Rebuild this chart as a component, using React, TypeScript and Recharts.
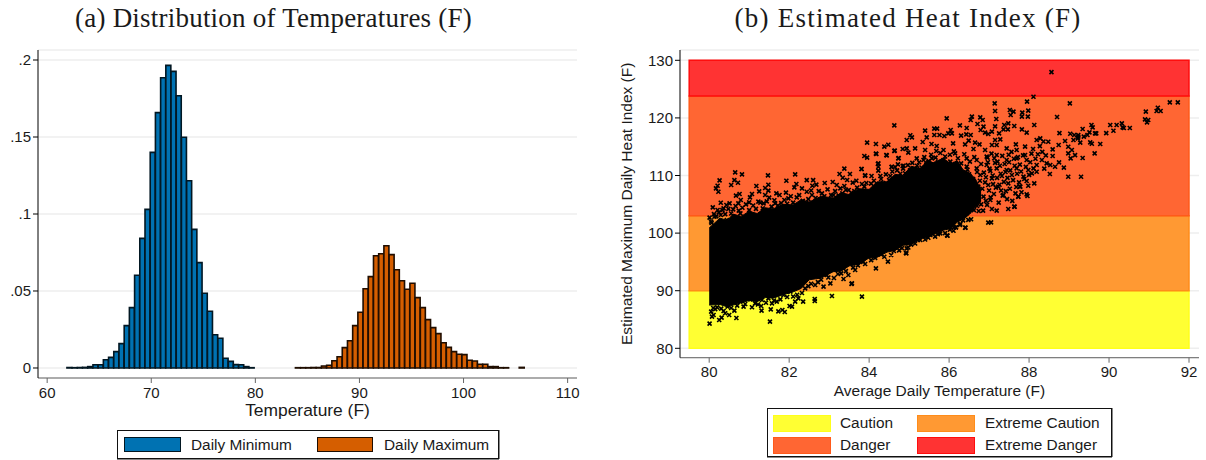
import {
  Area,
  Bar,
  BarChart,
  CartesianGrid,
  Cell,
  ComposedChart,
  ReferenceArea,
  Scatter,
  XAxis,
  YAxis,
} from "recharts";

const SANS = '"Liberation Sans", Arial, sans-serif';
const SERIF = '"Liberation Serif", serif';

// panel (a): histogram bins, bin centre and density
const minBins = [
  62.15, 62.65, 63.15, 63.65, 64.15, 64.65, 65.15, 65.65, 66.15, 66.65, 67.15, 67.65,
  68.15, 68.65, 69.15, 69.65, 70.15, 70.65, 71.15, 71.65, 72.15, 72.65, 73.15, 73.65,
  74.15, 74.65, 75.15, 75.65, 76.15, 76.65, 77.15, 77.65, 78.15, 78.65, 79.15, 79.65,
];
const minDensity = [
  0.0003, 0.0002, 0.0003, 0.0004, 0.0009, 0.0021, 0.0021, 0.0054, 0.0069, 0.0106, 0.0158, 0.0275,
  0.0392, 0.0602, 0.0842, 0.103, 0.14, 0.1658, 0.1885, 0.1965, 0.1926, 0.1768, 0.1498, 0.1216,
  0.09, 0.0684, 0.0485, 0.0368, 0.0216, 0.0193, 0.0063, 0.0043, 0.0022, 0.0021, 0.0009, 0.0002,
];
const maxBins = [
  84.1, 84.6, 85.1, 85.6, 86.1, 86.6, 87.1, 87.6, 88.1, 88.6, 89.1, 89.6, 90.1, 90.6, 91.1, 91.6,
  92.1, 92.6, 93.1, 93.6, 94.1, 94.6, 95.1, 95.6, 96.1, 96.6, 97.1, 97.6, 98.1, 98.6, 99.1, 99.6,
  100.1, 100.6, 101.1, 101.6, 102.1, 102.6, 103.1, 103.6, 104.1, 105.6,
];
const maxDensity = [
  0.0002, 0.0002, 0.0002, 0.0003, 0.0003, 0.0013, 0.0018, 0.0047, 0.0073, 0.0132, 0.0177, 0.0275,
  0.0362, 0.0515, 0.0593, 0.0729, 0.0742, 0.0794, 0.0736, 0.0638, 0.0567, 0.0511, 0.055, 0.0457,
  0.0392, 0.0314, 0.0262, 0.0223, 0.0164, 0.0134, 0.0106, 0.0089, 0.0087, 0.005, 0.0045, 0.0024,
  0.0024, 0.0009, 0.0009, 0.0002, 0.0002, 0.0004,
];
const densityTicks = [0, 0.05, 0.1, 0.15, 0.2];
const tempTicks = [60, 70, 80, 90, 100, 110];

// panel (b): heat index bands
const bandNames = ["Caution", "Extreme Caution", "Danger", "Extreme Danger"];
const bandLow = [80, 90, 103, 123.8];
const bandHigh = [90, 103, 123.8, 130];
const bandFill = ["#ffff33", "#ff9933", "#ff6633", "#ff3333"];
const bandEdge = ["#ffff1a", "#ff8c1a", "#ff5a1a", "#ff0d0d"];
const avgTicks = [80, 82, 84, 86, 88, 90, 92];
const heatTicks = [80, 90, 100, 110, 120, 130];

// the solid black core of the scatter, read as a lower and upper edge
const coreTemp = [
  80, 80.27, 80.45, 80.6, 80.8, 81, 81.2, 81.4, 81.6, 81.85, 82.1, 82.3, 82.5, 82.8, 83.1, 83.3, 83.5,
  83.75, 84, 84.2, 84.45, 84.65, 84.85, 85.05, 85.3, 85.45, 85.6, 85.85, 86.05, 86.2, 86.35, 86.5, 86.65, 86.8,
];
const coreLow = [
  87.5, 87.6, 87.2, 87.5, 87.9, 88.3, 88.1, 88.8, 88.7, 89.3, 89.8, 90.4, 91.9, 92.2, 93.3, 93.4, 94.3,
  94.6, 95.7, 95.8, 96.7, 97, 97.9, 98, 99.1, 99.2, 99.7, 100.5, 100.8, 101.9, 102.4, 103.2, 104.5, 105.5,
];
const coreHigh = [
  100.9, 102.6, 102.2, 103.3, 102.9, 103.8, 103.4, 104.4, 104.2, 105, 104.9, 105.8, 105.4, 106.4, 106.1, 107, 106.7,
  107.7, 107.6, 108.9, 108.9, 110.2, 110, 111.6, 111.2, 112.7, 112.2, 113, 112, 112.6, 111, 110.5, 109.5, 107.5,
];

// single markers around the core
const looseTemp = [
  80.65, 80.82, 81.47, 82.15, 83.38, 83.81, 80.26, 80.21, 80.17, 80.23, 80.55, 80.63, 80.72, 81.18, 81.48, 81.4,
  81.48, 81.25, 81.93, 82.18, 82.13, 82.44, 82.6, 82.58, 82.68, 82.89, 83.09, 83.26, 83.34, 83.52, 83.45, 83.59,
  83.68, 83.9, 83.19, 83.28, 83.38, 83.49, 83.63, 83.82, 83.88, 80.76, 80.67, 81.07, 81.02, 81.68, 81.76, 81.92,
  81.4, 81.5, 82.32, 82.44, 82.57, 82.82, 83.11, 81.88, 81.98, 82.19, 80.79, 80.29, 80.09, 80.51, 80.43, 80.21,
  80.36, 80.6, 81.0, 80.73, 80.78, 81.23, 81.36, 81.65, 80.01, 80.06, 80.13, 80.29, 80.44, 81.03, 81.48,
  80.01, 81.52, 80.68, 80.25, 80.31, 80.07, 80.05, 80.11, 80.36, 80.4, 80.5, 80.46, 80.63, 81.31, 81.54, 81.73,
  81.83, 81.89, 82.01, 82.07, 82.35, 82.64, 82.64, 83.07, 83.82, 81.3, 81.57, 81.69, 80.86, 81.07, 80.78, 81.03,
  81.32, 81.48, 82.15, 82.23, 81.86, 82.03, 82.65, 82.86, 83.03, 83.36, 83.57, 83.48, 83.65, 83.9, 82.94,
  87.14, 87.95, 87.15, 87.52, 87.61, 87.54, 87.83, 87.98, 87.82, 87.97, 86.57, 86.54, 86.78, 86.84, 87.18, 85.94,
  84.63, 86.27, 86.44, 86.71, 86.86, 87.15, 87.38, 87.48, 87.63, 87.36, 87.47, 87.82, 87.94, 85.4, 85.63, 85.7,
  86.79, 86.9, 86.98, 87.07, 87.25, 86.04, 85.98, 85.88, 86.07, 85.63, 85.76, 85.44, 86.3, 86.43, 86.54, 85.03,
  85.07, 84.94, 83.95, 84.17, 84.38, 84.48, 85.34, 85.56, 85.69, 86.49, 86.4, 86.65, 86.76, 87.15, 87.28, 87.07,
  87.67, 87.9, 84.64, 84.84, 84.94, 84.17, 84.43, 83.88, 83.95, 84.74, 84.98, 85.15, 85.4, 85.68, 86.1, 85.86,
  86.15, 86.61, 86.9, 87.19, 87.44, 87.69, 87.9, 84.23, 84.23, 83.81, 84.56, 84.72, 84.84, 83.9, 84.06, 84.28,
  84.53, 85.19, 85.36, 85.57, 85.86, 86.03, 86.44, 86.69, 86.94, 87.19, 87.44, 87.69, 87.94, 86.44, 86.69, 86.94,
  87.19, 87.44, 87.69, 87.98, 86.52, 86.78, 87.07, 87.32, 87.57, 87.86, 86.73, 86.98, 87.23, 87.48, 87.78, 87.94,
  86.61, 86.74, 87.07, 87.19, 87.48, 87.63, 87.36, 87.73, 87.94, 86.61, 86.27, 86.98, 87.05, 86.41, 86.17, 86.86,
  87.03, 88.56, 88.11, 89.02, 88.7, 88.13, 88.76, 89.03, 89.13, 89.23, 89.34, 89.22, 89.37, 89.46, 89.56, 89.59,
  89.51, 89.65, 89.68, 89.93, 90.11, 90.03, 90.19, 90.32, 90.34, 90.37, 90.52, 90.92, 91.22, 91.19, 91.29, 90.9,
  90.98, 90.95, 91.52, 91.72, 89.53, 89.57, 89.78, 89.64, 89.34, 89.3, 88.98, 88.52, 88.87, 88.75, 88.65, 88.53,
  88.98, 89.07, 88.98, 89.04, 89.15, 88.9, 89.11, 89.28, 89.23, 88.74, 88.59, 88.59, 88.48, 88.28, 88.19, 88.44,
  88.32, 88.19, 88.11, 88.19, 88.07, 88.13, 87.98, 87.77, 87.96, 87.73, 87.64, 86.27, 85.96, 84.93, 84.94, 85.28,
  85.53, 85.78, 83.56, 84.17, 84.47, 84.92, 85.95, 86.4, 86.11, 86.17, 84.18, 84.44, 84.63, 84.22, 84.23, 84.57,
  84.73, 84.86, 84.65,
];
const looseHeat = [
  110.55, 110.2, 110.03, 110.2, 111.2, 111.13, 109.16, 108.23, 107.77, 107.19, 108.35, 109.2, 108.75, 108.18, 108.4, 107.83,
  107.37, 107.25, 109.1, 108.52, 107.95, 109.2, 109.2, 108.23, 108.41, 108.7, 108.87, 110.26, 109.62, 110.26, 109.22, 108.76,
  109.1, 110.03, 108.35, 107.77, 108.18, 107.48, 107.31, 108.52, 108.06, 106.79, 106.5, 106.79, 106.21, 106.9, 106.61, 107.02,
  106.61, 106.15, 107.77, 107.19, 106.61, 106.9, 106.61, 105.75, 106.03, 106.21, 105.75, 105.28, 104.47, 105.17, 104.88, 104.01,
  104.3, 104.13, 105.34, 105.17, 103.43, 105.46, 105.17, 105.17, 102.68, 101.75, 102.85, 103.14, 102.27, 103.14, 103.43,
  84.28, 84.63, 85.26, 84.92, 85.32, 85.5, 86.36, 85.78, 86.48, 86.08, 85.78, 87.23, 86.54, 86.54, 86.77, 86.42,
  86.65, 86.31, 87.35, 87.23, 88.1, 88.56, 88.22, 89.08, 88.97, 87.35, 87.81, 88.1, 87.23, 87.12, 88.1, 88.5,
  88.39, 88.68, 88.1, 88.68, 89.26, 89.84, 91.0, 90.7, 91.28, 92.03, 91.28, 92.73, 93.6, 94.64, 92.73,
  122.53, 122.82, 121.2, 121.37, 121.08, 120.5, 120.91, 121.26, 120.22, 120.22, 120.22, 119.64, 120.1, 119.64, 119.81, 119.93,
  118.71, 118.71, 118.25, 118.94, 118.48, 118.54, 118.77, 119.06, 118.6, 118.02, 118.02, 118.02, 117.44, 117.79, 118.13, 118.13,
  117.9, 117.44, 117.21, 117.61, 117.32, 117.9, 117.32, 116.86, 117.32, 117.03, 117.03, 116.63, 116.92, 117.15, 117.03, 116.98,
  116.63, 116.17, 115.7, 115.47, 115.01, 115.35, 115.82, 115.47, 115.12, 116.05, 115.41, 115.7, 115.41, 116.17, 116.28, 115.3,
  115.41, 115.01, 114.31, 114.6, 114.72, 113.79, 113.56, 113.39, 113.1, 113.04, 113.97, 114.72, 114.43, 114.26, 115.59, 114.43,
  113.85, 114.6, 114.43, 115.3, 114.72, 114.43, 113.56, 112.1, 110.84, 111.13, 111.48, 111.94, 111.65, 109.97, 109.92, 109.92,
  109.92, 112.98, 112.69, 112.98, 112.69, 112.4, 112.98, 112.69, 113.27, 113.56, 112.69, 112.98, 112.69, 111.54, 111.25, 111.83,
  111.25, 110.96, 111.25, 110.96, 109.8, 110.09, 109.51, 109.92, 110.09, 109.8, 108.06, 108.35, 108.06, 108.64, 108.06, 109.05,
  105.17, 103.84, 104.19, 103.9, 104.19, 104.59, 106.62, 106.33, 106.73, 106.91, 107.49, 101.81, 101.87, 100.95, 101.0, 106.33,
  105.75, 127.96, 123.68, 122.52, 120.15, 118.76, 117.37, 117.26, 117.03, 117.03, 118.07, 116.45, 116.74, 117.03, 118.76, 118.36,
  117.49, 117.32, 117.32, 117.37, 117.78, 118.76, 118.76, 119.05, 118.36, 118.24, 118.24, 121.08, 121.77, 121.19, 121.19, 119.75,
  119.63, 119.23, 122.7, 122.7, 115.75, 115.52, 115.47, 113.84, 113.03, 109.79, 109.79, 110.26, 111.36, 112.28, 111.53, 111.82,
  115.0, 114.42, 113.84, 112.98, 113.55, 115.99, 116.16, 115.7, 116.74, 115.29, 113.38, 114.54, 115.87, 116.45, 116.16, 112.11,
  112.69, 111.82, 111.24, 110.66, 110.37, 108.64, 108.23, 108.06, 106.44, 106.32, 104.58, 101.4, 99.55, 96.48, 97.35, 98.8,
  99.67, 99.96, 91.16, 93.88, 95.04, 96.6, 99.61, 100.94, 100.42, 101.0, 113.73, 113.5, 114.25, 111.99, 111.53, 111.53,
  112.98, 111.7, 111.47,
];

// tightly packed markers hugging the core, estimated by eye
const fringeTemp = [
  84.05, 84.12, 84.2, 84.3, 84.35, 84.42, 84.5, 84.58, 84.66, 84.7, 84.78, 84.85, 84.9, 84.97, 85.02, 85.08,
  85.12, 85.2, 85.25, 85.31, 85.38, 85.43, 85.49, 85.55, 85.6, 85.66, 85.72, 85.78, 85.82, 85.9, 85.96, 86.02,
  86.08, 86.12, 86.18, 86.22, 86.26, 86.3, 86.35, 86.38, 86.42, 86.46, 86.5, 86.52, 86.56, 86.6, 86.63, 86.66,
  86.7, 86.74, 86.77, 86.8, 86.83, 86.87, 86.9, 86.92, 86.97, 87.0, 87.03, 87.06, 87.1, 87.12, 87.15, 87.2,
  87.24, 87.27, 87.3, 87.33, 87.37, 87.41, 87.45, 87.5, 87.52, 87.56, 87.6, 87.64, 87.66, 87.72, 87.75, 87.8,
  80.05, 80.12, 80.18, 80.24, 80.33, 80.4, 80.48, 80.55, 80.66, 80.74, 80.83, 80.92, 81, 81.1, 81.17, 81.28,
  81.34, 81.44, 81.56, 81.63, 81.72, 81.8, 81.95, 82.04, 82.1, 82.25, 82.34, 82.48, 82.55, 82.66, 82.74, 82.88,
  82.96, 83.05, 83.15, 83.24, 83.33, 83.42, 83.55, 83.7, 83.78, 83.93,
  80.1, 80.15, 80.2, 80.3, 80.55, 80.7, 80.9, 81.15, 81.22, 81.42, 81.62, 81.78, 81.95, 82.1, 82.2, 82.32,
  82.4, 82.48, 82.55, 82.72, 82.8, 82.98, 83.12, 83.22, 83.3, 83.42, 83.6, 83.72, 83.85, 84.05, 84.15, 84.3,
  84.38, 84.55, 84.62, 84.75, 84.82, 84.98, 85.05, 85.15, 85.22, 85.4, 85.48, 85.65, 85.72, 85.9, 86.02, 86.12,
  86.28, 86.35, 86.48, 86.55, 86.38, 86.44, 86.5, 86.55, 86.62, 86.66, 86.7, 86.8, 86.85, 86.95,
  86.92, 86.96, 87.01, 87.04, 87.09, 87.13, 87.17, 87.21, 87.26, 87.29, 87.34, 87.39, 87.42, 87.46, 87.49, 87.53,
  87.58, 87.62, 87.68, 87.7, 87.77, 87.81, 87.85, 87.88, 87.92, 88, 88.03, 88.06, 88.1, 88.16, 88.22, 88.27,
  88.33, 88.38, 88.42, 88.36,
];
const fringeHeat = [
  108.6, 109.1, 108.3, 109.4, 108.7, 110.2, 109.2, 110.7, 109.6, 110.9, 110.3, 111.2, 110.4, 111.8, 110.9, 112.2,
  111.2, 111.7, 112.3, 111.4, 113.2, 111.9, 112.5, 113.6, 112, 113.1, 112.3, 113.9, 112.2, 113.3, 111.9, 113.6,
  112, 114.2, 111.6, 113, 110.6, 112.1, 109.9, 113.7, 108.7, 111, 110.2, 112.4, 107.6, 109.4, 113.2, 108.3,
  110.6, 106.7, 109.1, 112, 107.7, 110.5, 108.8, 105.6, 112.3, 107.4, 110.8, 113.8, 108.5, 106.8, 112.2, 109.6,
  105.3, 111.7, 107.4, 113.4, 108.9, 110.6, 105.9, 112.3, 107.7, 114.1, 109.2, 111.7, 106.9, 113.2, 108.8, 110.7,
  102, 103.3, 102.9, 103.6, 104, 103.3, 104.2, 103.4, 104.7, 103.9, 104.4, 105, 104, 104.8, 104.2, 105.3,
  104.3, 105.5, 104.6, 105.7, 104.8, 105.2, 105.1, 106.4, 105.3, 106.6, 105.6, 105.9, 107.4, 106.1, 107.3, 106.4,
  107.6, 106.6, 107.3, 106.5, 106.9, 107.5, 107, 107.9, 107.2, 108.7,
  87, 86.8, 87.1, 86.9, 87, 87.4, 87.7, 87.8, 87.6, 87.9, 88.3, 88.5, 88.9, 89, 89.3, 89.6,
  90.4, 90.8, 91.2, 91.5, 91.9, 92.3, 92.2, 92.9, 93, 93.4, 94, 94.4, 95, 95.3, 95.7, 96.3,
  95.9, 96.2, 96.9, 97, 97.4, 97.5, 98, 98.2, 98.8, 98.9, 99.2, 99.4, 99.8, 100, 100.6, 101,
  101.6, 102.2, 102.3, 102.4, 104, 105, 103.8, 105.6, 104, 105.9, 104.7, 105, 103.9, 104.9,
  109.7, 113.1, 111.2, 106.2, 110, 113, 107.9, 112.4, 108.4, 110.3, 106.5, 112, 107.3, 109.6, 113.6, 110.9,
  105.6, 112.9, 108, 110.3, 111.9, 107.1, 113.5, 109.4, 111.5, 110.1, 112.3, 113.8, 114.6, 112.9, 113.7, 115.1,
  114.1, 111.2, 113.5, 115.9,
];

const histRows = [
  ...minBins.map((bin, i) => ({ bin, density: minDensity[i], fill: "#0072b2", edge: "#021722" })),
  ...maxBins.map((bin, i) => ({ bin, density: maxDensity[i], fill: "#d55e00", edge: "#1f0d00" })),
];
const coreRows = coreTemp.map((temp, i) => ({ temp, band: [coreLow[i], coreHigh[i]] }));
const looseRows = [
  ...looseTemp.map((temp, i) => ({ temp, heat: looseHeat[i] })),
  ...fringeTemp.map((temp, i) => ({ temp, heat: fringeHeat[i] })),
];

const tickStyle = { fontSize: 15, fontFamily: SANS, fill: "#1a1a1a" };
const labelStyle = { fontSize: 15.5, fontFamily: SANS, fill: "#1a1a1a" };

const XMark = (props: any) => {
  const { cx, cy } = props;
  const r = 2;
  return (
    <path
      d={`M${cx - r},${cy - r}L${cx + r},${cy + r}M${cx - r},${cy + r}L${cx + r},${cy - r}`}
      stroke="#000"
      strokeWidth={1.6}
      fill="none"
    />
  );
};

function Swatch({ left, top, width, height, fill, edge, border }: any) {
  return (
    <div
      style={{
        position: "absolute",
        left,
        top,
        width,
        height,
        background: fill,
        border: `${border}px solid ${edge}`,
        boxSizing: "border-box",
      }}
    />
  );
}

function LegendText({ left, top, children }: any) {
  return (
    <div
      style={{
        position: "absolute",
        left,
        top,
        fontFamily: SANS,
        fontSize: 15.4,
        lineHeight: "18px",
        color: "#1a1a1a",
        whiteSpace: "nowrap",
      }}
    >
      {children}
    </div>
  );
}

function LegendBox({ left, top, width, height }: any) {
  return (
    <div
      style={{
        position: "absolute",
        left,
        top,
        width,
        height,
        border: "1px solid #111",
        boxShadow: "0 1px 0 #888, 1px 0 0 #888",
        boxSizing: "border-box",
      }}
    />
  );
}

function Title({ center, spacing, children }: any) {
  return (
    <div
      style={{
        position: "absolute",
        left: center - 290,
        width: 580,
        top: 1,
        textAlign: "center",
        fontFamily: SERIF,
        fontSize: 27,
        lineHeight: "34px",
        letterSpacing: spacing,
        color: "#1a1a1a",
      }}
    >
      {children}
    </div>
  );
}

export default function App() {
  return (
    <div style={{ position: "absolute", left: 0, top: 0, width: 1206, height: 460, background: "#fff", overflow: "hidden" }}>
      <Title center={273.5} spacing={0.22}>(a) Distribution of Temperatures (F)</Title>
      <Title center={908} spacing={1.25}>(b) Estimated Heat Index (F)</Title>

      <div style={{ position: "absolute", left: 0, top: 0 }}>
        <BarChart
          width={590}
          height={425}
          data={histRows}
          margin={{ top: 50, right: 13, bottom: 0, left: 0 }}
          barSize={5}
        >
          <CartesianGrid horizontal vertical={false} stroke="#eeeeee" strokeWidth={1.5} />
          <XAxis
            dataKey="bin"
            type="number"
            domain={[59.12, 110.9]}
            ticks={tempTicks}
            height={47}
            tick={tickStyle}
            tickSize={5}
            tickMargin={4}
            stroke="#666"
            interval={0}
            label={{ value: "Temperature (F)", position: "insideBottom", offset: 9, style: { ...labelStyle, fontSize: 17.4 } }}
          />
          <YAxis
            type="number"
            domain={[-0.0065, 0.2065]}
            ticks={densityTicks}
            width={38}
            tick={tickStyle}
            tickSize={5}
            tickMargin={2}
            stroke="#000"
            interval={0}
            tickFormatter={(v: number) => (v === 0 ? "0" : String(v).replace("0.", "."))}
          />
          <Bar dataKey="density" isAnimationActive={false} strokeWidth={1.6}>
            {histRows.map((r) => (
              <Cell key={r.bin} fill={r.fill} stroke={r.edge} />
            ))}
          </Bar>
        </BarChart>
      </div>

      <div style={{ position: "absolute", left: 600, top: 0 }}>
        <ComposedChart
          width={606}
          height={420}
          data={coreRows}
          margin={{ top: 50, right: 7, bottom: 0, left: 0 }}
        >
          <CartesianGrid horizontal vertical={false} stroke="#eeeeee" strokeWidth={1.5} />
          <XAxis
            dataKey="temp"
            type="number"
            domain={[79.27, 92.25]}
            ticks={avgTicks}
            height={62.3}
            tick={tickStyle}
            tickSize={5}
            tickMargin={4}
            stroke="#666"
            interval={0}
            label={{ value: "Average Daily Temperature (F)", position: "insideBottom", offset: 24, style: labelStyle }}
          />
          <YAxis
            type="number"
            domain={[78.37, 131.79]}
            ticks={heatTicks}
            width={80}
            tick={tickStyle}
            tickSize={5}
            tickMargin={2}
            stroke="#000"
            interval={0}
            label={{
              value: "Estimated Maximum Daily Heat Index (F)",
              angle: -90,
              position: "insideLeft",
              offset: 27,
              style: { ...labelStyle, textAnchor: "middle" },
            }}
          />
          {bandNames.map((name, i) => (
            <ReferenceArea
              key={name}
              x1={79.5}
              x2={92}
              y1={bandLow[i]}
              y2={bandHigh[i]}
              fill={bandFill[i]}
              fillOpacity={1}
              stroke={bandEdge[i]}
              strokeWidth={1.5}
            />
          ))}
          <Area
            dataKey="band"
            type="linear"
            stroke="#000"
            strokeWidth={1}
            fill="#000"
            fillOpacity={1}
            dot={false}
            activeDot={false}
            isAnimationActive={false}
          />
          <Scatter data={looseRows} dataKey="heat" shape={XMark} isAnimationActive={false} />
        </ComposedChart>
      </div>

      <LegendBox left={117} top={430} width={382} height={29} />
      <Swatch left={124} top={437} width={57} height={15} fill="#0072b2" edge="#021722" border={1.5} />
      <LegendText left={191} top={436}>Daily Minimum</LegendText>
      <Swatch left={317} top={437} width={56} height={15} fill="#d55e00" edge="#1f0d00" border={1.5} />
      <LegendText left={384} top={436}>Daily Maximum</LegendText>

      <LegendBox left={767} top={408} width={345} height={49} />
      <Swatch left={773} top={415} width={58} height={17} fill={bandFill[0]} edge={bandEdge[0]} border={1} />
      <LegendText left={840} top={414}>{bandNames[0]}</LegendText>
      <Swatch left={917} top={415} width={58} height={17} fill={bandFill[1]} edge={bandEdge[1]} border={1} />
      <LegendText left={985} top={414}>{bandNames[1]}</LegendText>
      <Swatch left={773} top={437} width={58} height={17} fill={bandFill[2]} edge={bandEdge[2]} border={1} />
      <LegendText left={840} top={436}>{bandNames[2]}</LegendText>
      <Swatch left={917} top={437} width={58} height={17} fill={bandFill[3]} edge={bandEdge[3]} border={1} />
      <LegendText left={985} top={436}>{bandNames[3]}</LegendText>
    </div>
  );
}
